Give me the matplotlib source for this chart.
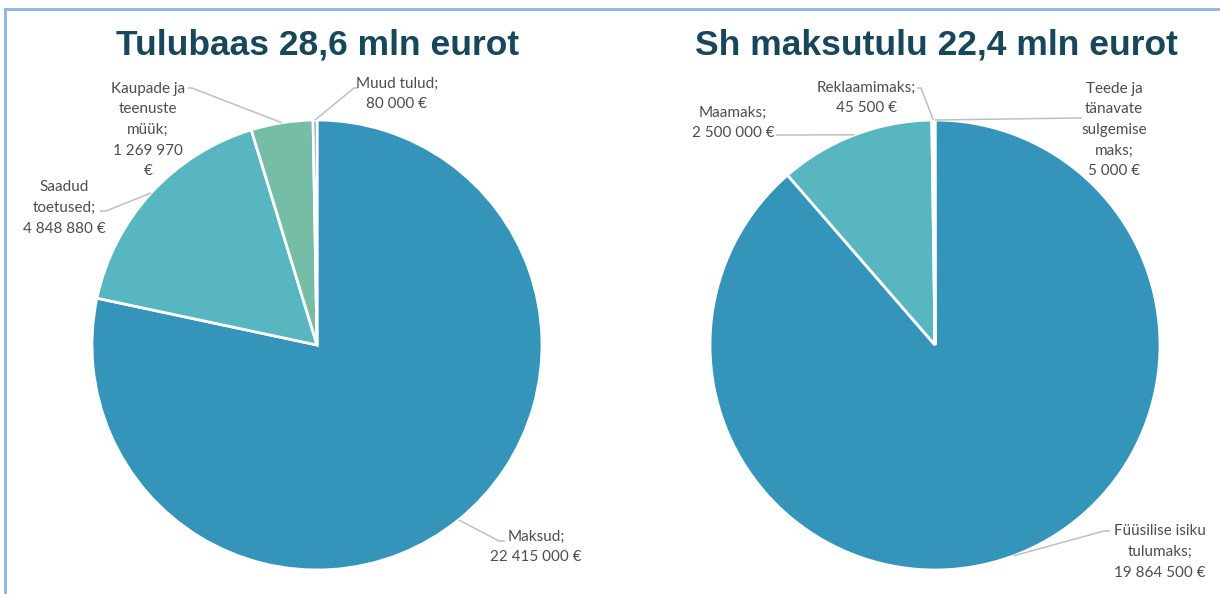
import matplotlib
matplotlib.use("Agg")
import matplotlib.pyplot as plt
from matplotlib.lines import Line2D
import numpy as np

# left pie: revenue base
tulu_names = ["Maksud;", "Saadud\ntoetused;", "Kaupade ja\nteenuste\nmüük;", "Muud tulud;"]
tulu_values = [22415000, 4848880, 1269970, 80000]
tulu_title = "Tulubaas 28,6 mln eurot"

# right pie: tax revenue
maks_names = ["Füüsilise isiku\ntulumaks;", "Maamaks;", "Reklaamimaks;", "Teede ja\ntänavate\nsulgemise\nmaks;"]
maks_values = [19864500, 2500000, 45500, 5000]
maks_title = "Sh maksutulu 22,4 mln eurot"

colors = ["#3494ba", "#58b6c0", "#75bda7", "#7a8c8e"]
colors_right = ["#3494ba", "#58b6c0", "#58b6c0", "#58b6c0"]

W, H = 1220, 594
R = 225  # pie radius in pixels


def fmt(v):
    return "{:,}".format(v).replace(",", " ") + " €"


def draw_pie(cx, cy, names, values, title, cols, layout, value_breaks):
    ax = fig.add_axes([0, 0, 1, 1])
    wedges, _ = ax.pie(values, colors=cols, startangle=90, counterclock=False,
                       radius=1, center=(0, 0), frame=True,
                       wedgeprops=dict(edgecolor="white", linewidth=2))
    ax.set_xlim(-cx / R, (W - cx) / R)
    ax.set_ylim(-(H - cy) / R, cy / R)
    ax.axis("off")

    def p(x, y):
        return (x - cx) / R, (cy - y) / R

    ax.text(*p(cx + 1, 45), title, ha="center", va="center", fontsize=25.5,
            fontweight="bold", color="#17475a", family="Liberation Sans")

    for w, name, v, (tx, ty), (ex, ey), (kx, ky), brk in zip(
            wedges, names, values, *layout, value_breaks):
        ang = np.deg2rad((w.theta1 + w.theta2) / 2)
        ax.plot([np.cos(ang), p(kx, ky)[0], p(ex, ey)[0]],
                [np.sin(ang), p(kx, ky)[1], p(ex, ey)[1]],
                color="#bfbfbf", lw=1.1, solid_capstyle="butt")
        val = fmt(v)
        if brk:
            val = val.replace(" €", "\n€")
        ax.text(*p(tx, ty), name + "\n" + val, ha="center", va="center",
                multialignment="center", fontsize=11, color="#4d4d4d",
                family="Lato", linespacing=1.6)


fig = plt.figure(figsize=(W / 100, H / 100), dpi=100)

left_layout = (
    [(536, 547), (64, 208), (148, 130), (397, 94)],      # text centres
    [(505, 541), (100, 211), (188, 88), (358, 88)],      # line ends
    [(499, 541), (106, 211), (192, 88), (354, 88)],      # elbows
)
draw_pie(317, 345, tulu_names, tulu_values, tulu_title, colors, left_layout,
         [False, False, True, False])

right_layout = (
    [(1160, 552), (733, 123), (866, 98), (1114, 130)],
    [(1110, 531), (776, 135), (917, 88), (1082, 118)],
    [(1104, 531), (782, 135), (921, 88), (1078, 118)],
)
draw_pie(935, 345, maks_names, maks_values, maks_title, colors_right, right_layout,
         [False, False, False, False])

# thin blue frame
fig.add_artist(Line2D([5 / W, 1], [1 - 9 / H, 1 - 9 / H], color="#8db3e2", lw=2,
                      transform=fig.transFigure))
fig.add_artist(Line2D([5 / W, 5 / W], [0, 1 - 9 / H], color="#8db3e2", lw=2,
                      transform=fig.transFigure))

fig.savefig("out.png", dpi=100, facecolor="white")
